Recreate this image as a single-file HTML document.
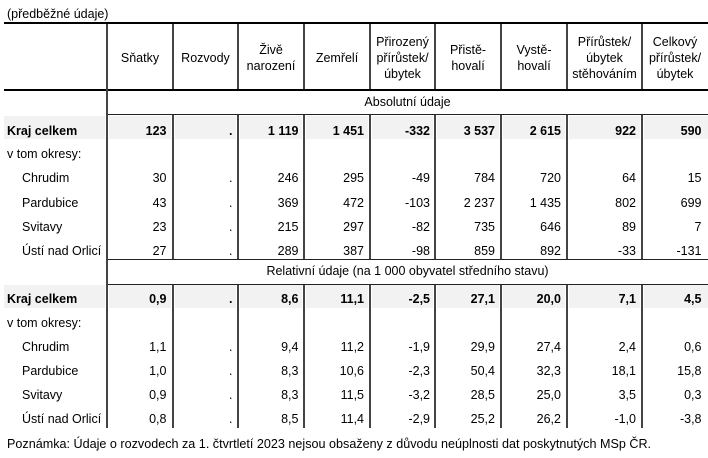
<!DOCTYPE html>
<html>
<head>
<meta charset="utf-8">
<style>
  html,body{margin:0;padding:0;background:#fff;}
  body{width:708px;height:458px;position:relative;overflow:hidden;
       font-family:"Liberation Sans",Arial,sans-serif;font-size:12.5px;color:#000;}
  .abs{position:absolute;}
  .hl{position:absolute;background:#000;}
  .vl{position:absolute;width:2px;background:#444;}
  .sh{position:absolute;background:#f2f2f2;}
  .row{position:absolute;left:0;width:708px;height:17px;line-height:17px;white-space:nowrap;}
  .row span{position:absolute;top:0;}
  .b{font-weight:bold;}
  .l0{left:7px;}
  .l1{left:22px;}
  .c1{right:541.5px;} .c2{right:475.5px;} .c3{right:409.5px;} .c4{right:344px;}
  .c5{right:278px;} .c6{right:213px;} .c7{right:147px;} .c8{right:72px;} .c9{right:6.5px;}
  .hdr{position:absolute;top:25px;height:65px;display:flex;align-items:center;justify-content:center;
       text-align:center;line-height:16px;}
  .sec{position:absolute;left:107px;width:601px;text-align:center;height:17px;line-height:17px;}
</style>
</head>
<body>
<div class="abs" style="left:7px;top:5.5px;line-height:17px;">(předběžné údaje)</div>

<!-- horizontal lines -->
<div class="hl" style="left:4px;top:22px;width:704px;height:2px;"></div>
<div class="hl" style="left:4px;top:89px;width:704px;height:2px;"></div>
<div class="hl" style="left:107px;top:113.5px;width:601px;height:1.5px;background:#222;"></div>
<div class="hl" style="left:107px;top:258.5px;width:601px;height:1.5px;background:#222;"></div>
<div class="hl" style="left:107px;top:283.5px;width:601px;height:1.5px;background:#222;"></div>

<!-- shading -->
<div class="sh" style="left:4px;top:116px;width:101px;height:23px;"></div>
<div class="sh" style="left:109px;top:116px;width:62px;height:23px;"></div>
<div class="sh" style="left:175px;top:116px;width:61px;height:23px;"></div>
<div class="sh" style="left:240px;top:116px;width:62px;height:23px;"></div>
<div class="sh" style="left:306px;top:116px;width:62px;height:23px;"></div>
<div class="sh" style="left:372px;top:116px;width:61px;height:23px;"></div>
<div class="sh" style="left:437px;top:116px;width:62px;height:23px;"></div>
<div class="sh" style="left:503px;top:116px;width:62px;height:23px;"></div>
<div class="sh" style="left:569px;top:116px;width:71px;height:23px;"></div>
<div class="sh" style="left:644px;top:116px;width:64px;height:23px;"></div>

<div class="sh" style="left:4px;top:285px;width:101px;height:23px;"></div>
<div class="sh" style="left:109px;top:285px;width:62px;height:23px;"></div>
<div class="sh" style="left:175px;top:285px;width:61px;height:23px;"></div>
<div class="sh" style="left:240px;top:285px;width:62px;height:23px;"></div>
<div class="sh" style="left:306px;top:285px;width:62px;height:23px;"></div>
<div class="sh" style="left:372px;top:285px;width:61px;height:23px;"></div>
<div class="sh" style="left:437px;top:285px;width:62px;height:23px;"></div>
<div class="sh" style="left:503px;top:285px;width:62px;height:23px;"></div>
<div class="sh" style="left:569px;top:285px;width:71px;height:23px;"></div>
<div class="sh" style="left:644px;top:285px;width:64px;height:23px;"></div>

<!-- vertical lines -->
<div class="vl" style="left:106px;top:24px;height:404px;"></div>

<div class="vl" style="left:172px;top:24px;height:65px;"></div>
<div class="vl" style="left:237px;top:24px;height:65px;"></div>
<div class="vl" style="left:303px;top:24px;height:65px;"></div>
<div class="vl" style="left:369px;top:24px;height:65px;"></div>
<div class="vl" style="left:434px;top:24px;height:65px;"></div>
<div class="vl" style="left:500px;top:24px;height:65px;"></div>
<div class="vl" style="left:566px;top:24px;height:65px;"></div>
<div class="vl" style="left:641px;top:24px;height:65px;"></div>

<div class="vl" style="left:172px;top:115px;height:144px;"></div>
<div class="vl" style="left:237px;top:115px;height:144px;"></div>
<div class="vl" style="left:303px;top:115px;height:144px;"></div>
<div class="vl" style="left:369px;top:115px;height:144px;"></div>
<div class="vl" style="left:434px;top:115px;height:144px;"></div>
<div class="vl" style="left:500px;top:115px;height:144px;"></div>
<div class="vl" style="left:566px;top:115px;height:144px;"></div>
<div class="vl" style="left:641px;top:115px;height:144px;"></div>

<div class="vl" style="left:172px;top:285px;height:143px;"></div>
<div class="vl" style="left:237px;top:285px;height:143px;"></div>
<div class="vl" style="left:303px;top:285px;height:143px;"></div>
<div class="vl" style="left:369px;top:285px;height:143px;"></div>
<div class="vl" style="left:434px;top:285px;height:143px;"></div>
<div class="vl" style="left:500px;top:285px;height:143px;"></div>
<div class="vl" style="left:566px;top:285px;height:143px;"></div>
<div class="vl" style="left:641px;top:285px;height:143px;"></div>

<!-- headers -->
<div class="hdr" style="left:107px;width:66px;">Sňatky</div>
<div class="hdr" style="left:173px;width:65px;">Rozvody</div>
<div class="hdr" style="left:238px;width:66px;">Živě<br>narození</div>
<div class="hdr" style="left:304px;width:66px;">Zemřelí</div>
<div class="hdr" style="left:370px;width:65px;">Přirozený<br>přírůstek/<br>úbytek</div>
<div class="hdr" style="left:435px;width:66px;">Přistě-<br>hovalí</div>
<div class="hdr" style="left:501px;width:66px;">Vystě-<br>hovalí</div>
<div class="hdr" style="left:567px;width:75px;">Přírůstek/<br>úbytek<br>stěhováním</div>
<div class="hdr" style="left:642px;width:66px;">Celkový<br>přírůstek/<br>úbytek</div>

<!-- section 1 -->
<div class="sec" style="top:93.5px;">Absolutní údaje</div>

<div class="row b" style="top:122.5px;"><span class="l0">Kraj celkem</span><span class="c1">123</span><span class="c2">.</span><span class="c3">1 119</span><span class="c4">1 451</span><span class="c5">-332</span><span class="c6">3 537</span><span class="c7">2 615</span><span class="c8">922</span><span class="c9">590</span></div>
<div class="row" style="top:146px;"><span class="l0">v tom okresy:</span></div>
<div class="row" style="top:170px;"><span class="l1">Chrudim</span><span class="c1">30</span><span class="c2">.</span><span class="c3">246</span><span class="c4">295</span><span class="c5">-49</span><span class="c6">784</span><span class="c7">720</span><span class="c8">64</span><span class="c9">15</span></div>
<div class="row" style="top:194.5px;"><span class="l1">Pardubice</span><span class="c1">43</span><span class="c2">.</span><span class="c3">369</span><span class="c4">472</span><span class="c5">-103</span><span class="c6">2 237</span><span class="c7">1 435</span><span class="c8">802</span><span class="c9">699</span></div>
<div class="row" style="top:218.5px;"><span class="l1">Svitavy</span><span class="c1">23</span><span class="c2">.</span><span class="c3">215</span><span class="c4">297</span><span class="c5">-82</span><span class="c6">735</span><span class="c7">646</span><span class="c8">89</span><span class="c9">7</span></div>
<div class="row" style="top:242.5px;"><span class="l1">Ústí nad Orlicí</span><span class="c1">27</span><span class="c2">.</span><span class="c3">289</span><span class="c4">387</span><span class="c5">-98</span><span class="c6">859</span><span class="c7">892</span><span class="c8">-33</span><span class="c9">-131</span></div>

<!-- section 2 -->
<div class="sec" style="top:263px;">Relativní údaje (na 1 000 obyvatel středního stavu)</div>

<div class="row b" style="top:291px;"><span class="l0">Kraj celkem</span><span class="c1">0,9</span><span class="c2">.</span><span class="c3">8,6</span><span class="c4">11,1</span><span class="c5">-2,5</span><span class="c6">27,1</span><span class="c7">20,0</span><span class="c8">7,1</span><span class="c9">4,5</span></div>
<div class="row" style="top:315px;"><span class="l0">v tom okresy:</span></div>
<div class="row" style="top:339px;"><span class="l1">Chrudim</span><span class="c1">1,1</span><span class="c2">.</span><span class="c3">9,4</span><span class="c4">11,2</span><span class="c5">-1,9</span><span class="c6">29,9</span><span class="c7">27,4</span><span class="c8">2,4</span><span class="c9">0,6</span></div>
<div class="row" style="top:363px;"><span class="l1">Pardubice</span><span class="c1">1,0</span><span class="c2">.</span><span class="c3">8,3</span><span class="c4">10,6</span><span class="c5">-2,3</span><span class="c6">50,4</span><span class="c7">32,3</span><span class="c8">18,1</span><span class="c9">15,8</span></div>
<div class="row" style="top:387px;"><span class="l1">Svitavy</span><span class="c1">0,9</span><span class="c2">.</span><span class="c3">8,3</span><span class="c4">11,5</span><span class="c5">-3,2</span><span class="c6">28,5</span><span class="c7">25,0</span><span class="c8">3,5</span><span class="c9">0,3</span></div>
<div class="row" style="top:411px;"><span class="l1">Ústí nad Orlicí</span><span class="c1">0,8</span><span class="c2">.</span><span class="c3">8,5</span><span class="c4">11,4</span><span class="c5">-2,9</span><span class="c6">25,2</span><span class="c7">26,2</span><span class="c8">-1,0</span><span class="c9">-3,8</span></div>

<!-- footnote -->
<div class="abs" style="left:7px;top:437px;line-height:15px;font-size:12.6px;white-space:nowrap;">Poznámka: Údaje o rozvodech za 1. čtvrtletí 2023 nejsou obsaženy z důvodu neúplnosti dat poskytnutých MSp ČR.</div>
</body>
</html>
